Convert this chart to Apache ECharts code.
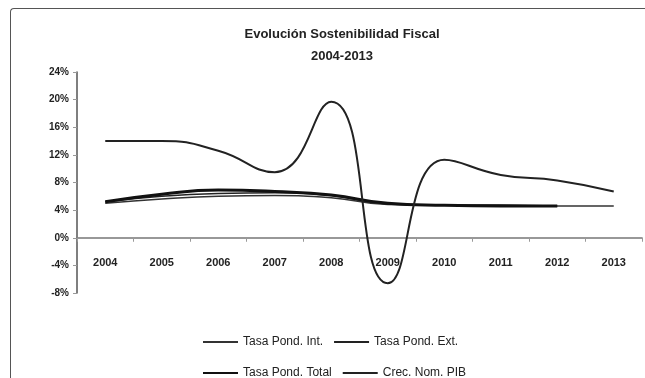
<!DOCTYPE html>
<html>
<head>
<meta charset="utf-8">
<script src="https://cdn.jsdelivr.net/npm/echarts@6/dist/echarts.min.js"></script>
<style>
  html, body { margin: 0; padding: 0; background: #fff; }
  #frame { position: absolute; left: 10px; top: 8px; width: 640px; height: 380px;
           border-left: 1.5px solid #555; border-top: 1.5px solid #555; border-top-left-radius: 4px; }
  #main { position: absolute; left: 0; top: 0; width: 645px; height: 378px; }
</style>
</head>
<body>
<div id="frame"></div>
<div id="main"></div>
<script>
// categorias (anios)
const years = ['2004', '2005', '2006', '2007', '2008', '2009', '2010', '2011', '2012', '2013'];
// valores en %
const tasaInt = [5.0, 5.6, 6.0, 6.1, 5.8, 4.8, 4.7, 4.7, 4.6, 4.6];
const tasaExt = [5.2, 6.0, 6.4, 6.5, 6.1, 4.9, 4.7, 4.7, 4.6, null];
const tasaTotal = [5.2, 6.3, 6.9, 6.7, 6.2, 5.0, 4.7, 4.6, 4.6, null];
const crecPib = [14.0, 14.0, 12.6, 9.5, 19.7, -6.6, 11.3, 9.1, 8.3, 6.7];
const yTicks = [-8, -4, 0, 4, 8, 12, 16, 20, 24];

const myChart = echarts.init(document.getElementById('main'));
const legendText = { fontFamily: 'Liberation Sans', fontSize: 12, color: '#222', width: 133 };
const gridTop = 72, gridBottom = 85;
// el eje X se dibuja en 0% (no en el minimo): desplazamiento hacia arriba
const plotH = 378 - gridTop - gridBottom;
const zeroOffset = plotH * (0 - yTicks[0]) / (yTicks[yTicks.length - 1] - yTicks[0]);

const option = {
  animation: false,
  title: {
    text: 'Evolución Sostenibilidad Fiscal\n2004-2013',
    left: 337,
    top: 18,
    textAlign: 'center',
    textStyle: { fontFamily: 'Liberation Sans', fontSize: 13, fontWeight: 'bold', color: '#222', lineHeight: 22 }
  },
  legend: [
    {
      data: ['Tasa Pond. Int.', 'Tasa Pond. Ext.'],
      left: 197, top: 331, itemWidth: 35, itemHeight: 14, itemGap: 10,
      itemStyle: { opacity: 0 },
      textStyle: legendText
    },
    {
      data: ['Tasa Pond. Total', 'Crec. Nom. PIB'],
      left: 197, top: 362, itemWidth: 35, itemHeight: 14, itemGap: 10,
      itemStyle: { opacity: 0 },
      textStyle: legendText
    }
  ],
  grid: { left: 77, right: 3, top: gridTop, bottom: gridBottom, containLabel: false },
  xAxis: {
    type: 'category',
    data: years,
    boundaryGap: true,
    offset: -zeroOffset,
    axisLine: { onZero: false, lineStyle: { color: '#777', width: 1.5 } },
    axisTick: { show: true, length: 4, lineStyle: { color: '#999' } },
    axisLabel: { fontFamily: 'Liberation Sans', fontSize: 11, fontWeight: 'bold', color: '#222', margin: 20 }
  },
  yAxis: {
    type: 'value',
    min: yTicks[0],
    max: yTicks[yTicks.length - 1],
    interval: 4,
    splitLine: { show: false },
    axisLine: { show: true, lineStyle: { color: '#555', width: 1.5 } },
    axisTick: { show: true, length: 4, lineStyle: { color: '#999' } },
    axisLabel: { fontFamily: 'Liberation Sans', fontSize: 10, fontWeight: 'bold', color: '#222', margin: 8,
                 formatter: v => v + '%' }
  },
  series: [
    { name: 'Tasa Pond. Int.', type: 'line', data: tasaInt, smooth: true, symbol: 'none',
      lineStyle: { color: '#333', width: 1.5 }, itemStyle: { color: '#333' } },
    { name: 'Tasa Pond. Ext.', type: 'line', data: tasaExt, smooth: true, symbol: 'none',
      lineStyle: { color: '#222', width: 1.5 }, itemStyle: { color: '#222' } },
    { name: 'Tasa Pond. Total', type: 'line', data: tasaTotal, smooth: true, symbol: 'none',
      lineStyle: { color: '#111', width: 3 }, itemStyle: { color: '#111' } },
    { name: 'Crec. Nom. PIB', type: 'line', data: crecPib, smooth: true, symbol: 'none',
      lineStyle: { color: '#222', width: 2 }, itemStyle: { color: '#222' } }
  ]
};
myChart.setOption(option);
</script>
</body>
</html>
